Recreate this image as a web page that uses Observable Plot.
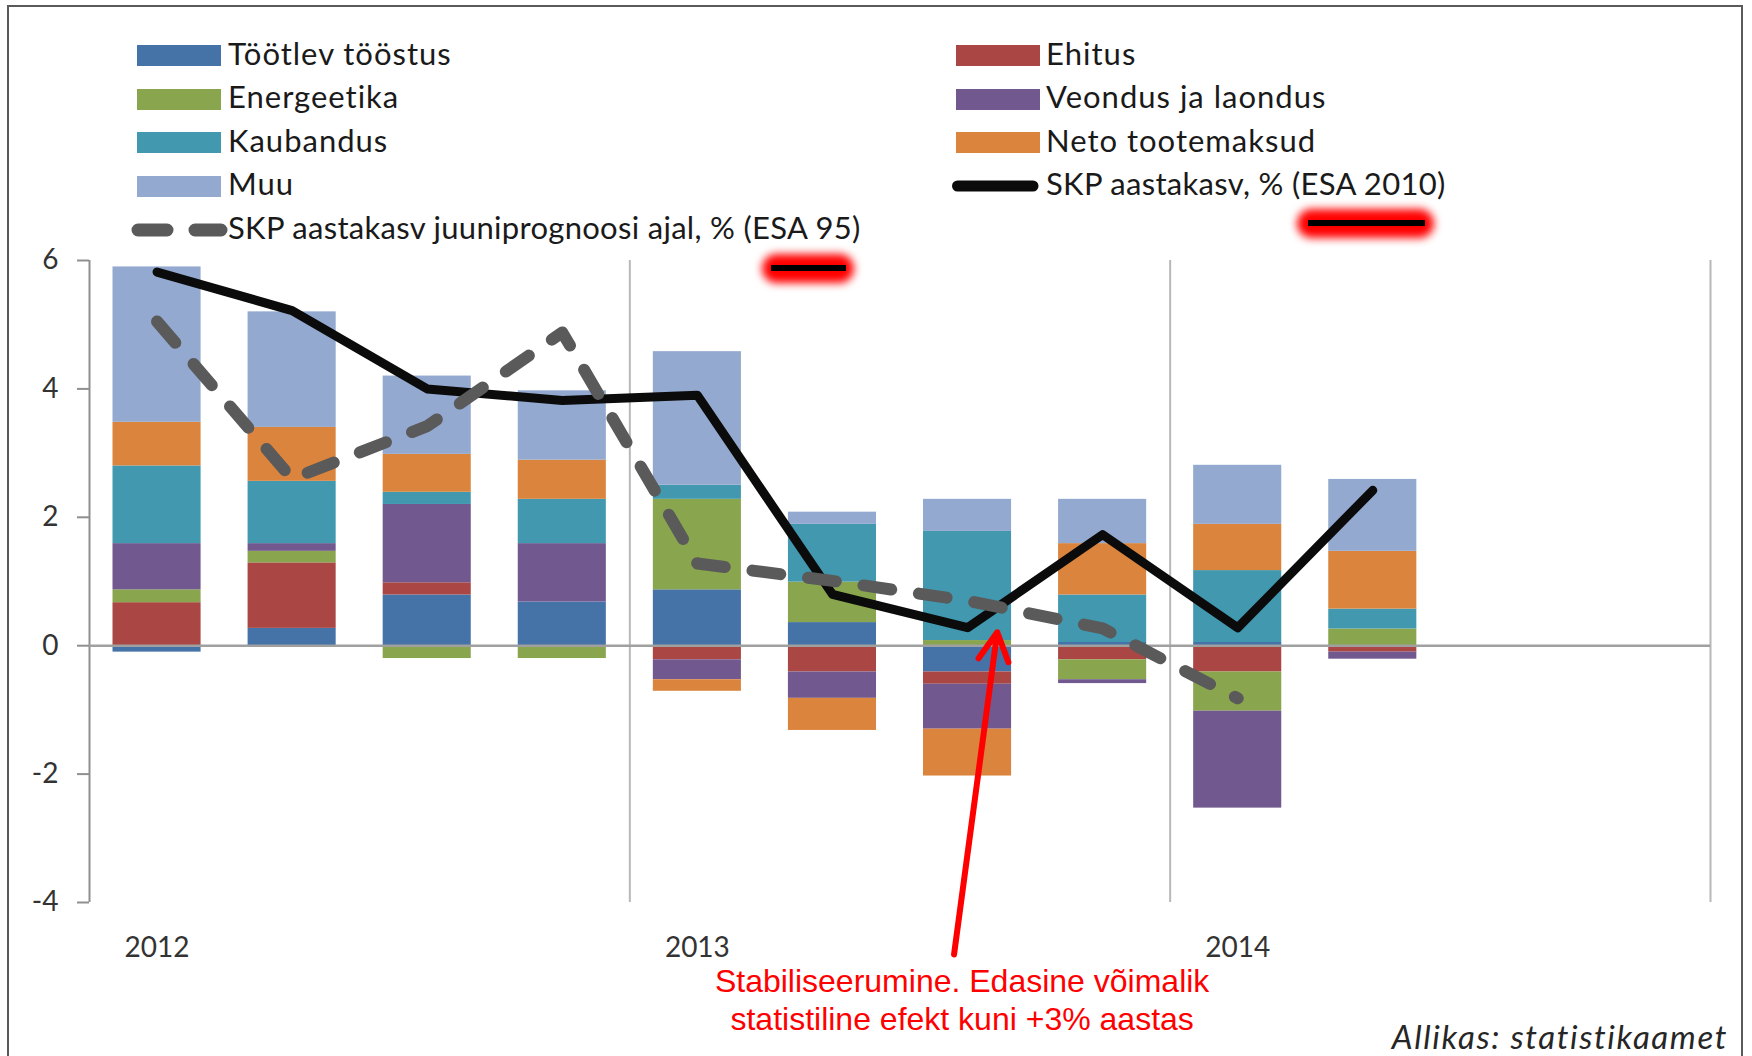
<!DOCTYPE html>
<html>
<head>
<meta charset="utf-8">
<script src="https://cdn.jsdelivr.net/npm/d3@7"></script>
<script src="https://cdn.jsdelivr.net/npm/@observablehq/plot@0.6"></script>
<style>
  html, body { margin: 0; padding: 0; background: #ffffff; }
  #wrap { position: relative; width: 1752px; height: 1056px; overflow: hidden; background: #ffffff; }
  #chart { position: absolute; left: 0; top: 245px; }
  .lg-text { position: absolute; font-family: Lato, "Open Sans", sans-serif; font-size: 31px; line-height: 37px; color: #1a1a1a; white-space: nowrap; }
  .lg-swatch { position: absolute; }
  .src { position: absolute; font-family: Lato, sans-serif; font-style: italic; font-size: 33px; line-height: 40px; color: #262626; white-space: nowrap; letter-spacing: 1.6px; }
  .glow { position: absolute; background: #ff0000; border-radius: 15px; filter: blur(4px); }
  .glowline { position: absolute; background: #000000; }
  .frame { position: absolute; left: 7px; top: 5px; width: 1732px; height: 1100px; border: 2px solid #5a5a5a; pointer-events: none; }
</style>
</head>
<body>
<div id="wrap"><div id="chart"></div></div>
<script>
// ---- Data ----
const quarters = ["2012 I", "2012 II", "2012 III", "2012 IV", "2013 I", "2013 II", "2013 III", "2013 IV", "2014 I", "2014 II"];
const yearLabels = ["2012", "2013", "2014"];
const seriesNames = ["Töötlev tööstus", "Ehitus", "Energeetika", "Veondus ja laondus", "Kaubandus", "Neto tootemaksud", "Muu"];
const seriesColors = ["#4572A7", "#AA4643", "#89A54E", "#71588F", "#4198AF", "#DB843D", "#93A9CF"];

const tootlev     = [-0.10, 0.27, 0.79, 0.68, 0.87, 0.36, -0.41, 0.05, 0.05, 0.00];
const ehitus      = [ 0.67, 1.02, 0.19, 0.00, -0.22, -0.41, -0.19, -0.22, -0.41, -0.10];
const energeetika = [ 0.20, 0.18, -0.20, -0.20, 1.41, 0.63, 0.08, -0.31, -0.61, 0.26];
const veondus     = [ 0.72, 0.12, 1.22, 0.91, -0.31, -0.41, -0.70, -0.06, -1.51, -0.11];
const kaubandus   = [ 1.21, 0.97, 0.19, 0.69, 0.22, 0.90, 1.70, 0.74, 1.12, 0.31];
const neto        = [ 0.68, 0.84, 0.59, 0.61, -0.18, -0.50, -0.73, 0.80, 0.72, 0.90];
const muu         = [ 2.42, 1.80, 1.22, 1.08, 2.08, 0.19, 0.50, 0.69, 0.92, 1.12];

const skp2010Name = "SKP aastakasv, % (ESA 2010)";
const skp2010 = [5.82, 5.22, 4.00, 3.82, 3.90, 0.80, 0.28, 1.73, 0.28, 2.42];
const skp95Name = "SKP aastakasv juuniprognoosi ajal, % (ESA 95)";
const skp95 = [5.05, 2.60, 3.42, 4.88, 1.28, 1.01, 0.70, 0.27, -0.82];

const yTicks = [-4, -2, 0, 2, 4, 6];
const annotationText = "Stabiliseerumine. Edasine võimalik\nstatistiline efekt kuni +3% aastas";
const annotationPos = [{x: 5.96, y: -4.99}];
const arrowPos = [{x1: 5.90, y1: -4.81, x2: 6.22, y2: 0.21}];
const sourceText = "Allikas: statistikaamet";

// ---- Build tables ----
const seriesValues = [tootlev, ehitus, energeetika, veondus, kaubandus, neto, muu];
const bars = seriesNames.flatMap((s, k) => seriesValues[k].map((v, i) => ({qi: i, quarter: quarters[i], series: s, value: v})));
const line2010 = skp2010.map((v, i) => ({qi: i, value: v}));
const line95 = skp95.map((v, i) => ({qi: i, value: v}));

const fmtY = d => d < 0 ? "-" + Math.abs(d) : String(d);
const fmtX = d => yearLabels[d / 4];
const hasAxisMarks = typeof Plot.axisY === "function";

const marks = [
  Plot.ruleX([3.5, 7.5, 11.5], {stroke: "#b8b8b8", strokeWidth: 2}),
  Plot.rectY(bars, {x1: d => d.qi - 0.5, x2: d => d.qi + 0.5, y: "value", fill: "series", order: seriesNames, insetLeft: 23.5, insetRight: 23.5}),
  Plot.ruleX([-0.5], {stroke: "#8f8f8f", strokeWidth: 2}),
  Plot.ruleY([0], {stroke: "#a0a0a0", strokeWidth: 2.5}),
  Plot.line(line2010, {x: "qi", y: "value", stroke: "#0b0b0b", strokeWidth: 9, strokeLinejoin: "round", strokeLinecap: "round"}),
  Plot.line(line95, {x: "qi", y: "value", stroke: "#5a5a5a", strokeWidth: 12, strokeDasharray: "28,28", strokeLinecap: "round", strokeLinejoin: "round"}),
  Plot.arrow(arrowPos, {x1: "x1", y1: "y1", x2: "x2", y2: "y2", stroke: "#ff0000", strokeWidth: 6, headLength: 8, headAngle: 56}),
  Plot.text(annotationPos, {x: "x", y: "y", text: () => annotationText, fill: "#ff0000", fontSize: 32, fontFamily: "'Liberation Sans', Arial, sans-serif", lineAnchor: "top", lineHeight: 1.16, textAnchor: "middle"})
];
if (hasAxisMarks) {
  marks.push(
    Plot.axisY({ticks: yTicks, tickFormat: fmtY, tickSize: 12, tickPadding: 19, stroke: "#8f8f8f", strokeWidth: 2, fill: "#333333", fontSize: 28}),
    Plot.axisX({ticks: [0, 4, 8], tickFormat: fmtX, tickSize: 0, tickPadding: 35, fill: "#333333", fontSize: 28})
  );
}

const chart = Plot.plot({
  width: 1752,
  height: 811,
  marginLeft: 89,
  marginRight: 42,
  marginTop: 15,
  marginBottom: 154,
  style: {fontFamily: "Lato, sans-serif", fontSize: "28px", color: "#333333", background: "transparent", overflow: "visible"},
  x: hasAxisMarks ? {domain: [-0.5, 11.5], axis: null} : {domain: [-0.5, 11.5], ticks: [0, 4, 8], tickFormat: fmtX, tickSize: 0, tickPadding: 35, label: null},
  y: hasAxisMarks ? {domain: [-4, 6], axis: null} : {domain: [-4, 6], ticks: yTicks, tickFormat: fmtY, tickSize: 12, tickPadding: 19, label: null},
  color: {domain: seriesNames, range: seriesColors},
  marks
});
document.getElementById("chart").appendChild(chart);

// ---- Legend (HTML above the SVG) ----
const wrap = document.getElementById("wrap");
const legendItems = seriesNames.map((name, k) => ({type: "rect", name, color: seriesColors[k]}))
  .concat([{type: "solid", name: skp2010Name}, {type: "dashed", name: skp95Name}]);
const colSwatch = [137, 956];
const colText = [228, 1046];
legendItems.forEach((item, k) => {
  const row = Math.floor(k / 2), col = k % 2;
  const cy = 55.5 + 43.6 * row;
  if (item.type === "rect") {
    const sw = document.createElement("div");
    sw.className = "lg-swatch";
    Object.assign(sw.style, {left: colSwatch[col] + "px", top: (cy - 10.5) + "px", width: "84px", height: "21px", background: item.color});
    wrap.appendChild(sw);
  } else {
    const ns = "http://www.w3.org/2000/svg";
    const svg = document.createElementNS(ns, "svg");
    svg.setAttribute("width", 110); svg.setAttribute("height", 30);
    svg.setAttribute("class", "lg-swatch");
    svg.style.left = (colSwatch[col] - 10) + "px";
    svg.style.top = (cy - 15) + "px";
    const ln = document.createElementNS(ns, "line");
    ln.setAttribute("y1", 15); ln.setAttribute("y2", 15);
    if (item.type === "solid") {
      ln.setAttribute("x1", 11.5); ln.setAttribute("x2", 87);
      ln.setAttribute("stroke", "#0b0b0b"); ln.setAttribute("stroke-width", 11);
    } else {
      ln.setAttribute("x1", 11); ln.setAttribute("x2", 94);
      ln.setAttribute("stroke", "#5a5a5a"); ln.setAttribute("stroke-width", 13);
      ln.setAttribute("stroke-dasharray", "29,28");
    }
    ln.setAttribute("stroke-linecap", "round");
    svg.appendChild(ln);
    wrap.appendChild(svg);
  }
  const tx = document.createElement("div");
  tx.className = "lg-text";
  tx.textContent = item.name;
  tx.style.left = colText[col] + "px";
  tx.style.top = (cy - 1.5 - 19.4) + "px";
  tx.style.letterSpacing = item.type === "rect" ? "1px" : "0.3px";
  wrap.appendChild(tx);
});

// ---- Source caption ----
const src = document.createElement("div");
src.className = "src";
src.textContent = sourceText;
src.style.right = (1752 - 1728) + "px";
src.style.top = (1049 - 33) + "px";
wrap.appendChild(src);

// ---- Red highlight marks (decoration) ----
[[762, 254, 92, 29, 771, 265, 75], [1297, 209, 137, 29, 1308, 220, 117]].forEach(([gx, gy, gw, gh, lx, ly, lw]) => {
  const g = document.createElement("div");
  g.className = "glow";
  Object.assign(g.style, {left: gx + "px", top: gy + "px", width: gw + "px", height: gh + "px"});
  wrap.appendChild(g);
  const l = document.createElement("div");
  l.className = "glowline";
  Object.assign(l.style, {left: lx + "px", top: ly + "px", width: lw + "px", height: "6px"});
  wrap.appendChild(l);
});

const frame = document.createElement("div");
frame.className = "frame";
wrap.appendChild(frame);
</script>
</body>
</html>
